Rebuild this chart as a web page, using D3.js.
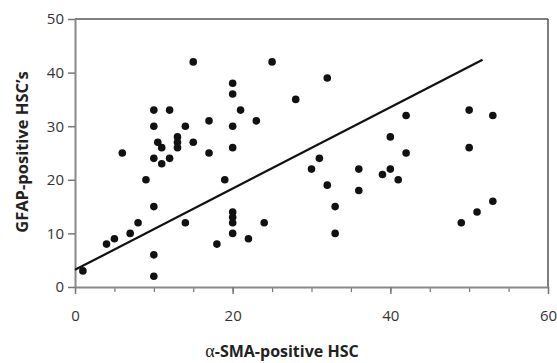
<!DOCTYPE html>
<html><head><meta charset="utf-8">
<script src="https://cdn.jsdelivr.net/npm/d3@7"></script>
<style>
body{margin:0;background:#fff;}
svg{display:block;}
.tick text{font-family:"Open Sans","Noto Sans",sans-serif;font-size:15px;fill:#333;}
</style></head>
<body><svg id="c" width="557" height="363"></svg>
<script>
const xVals=[1,4,5,6,7,8,9,10,10,10,10,10,10,10.5,11,11,12,12,13,13,13,14,14,15,15,17,17,18,19,20,20,20,20,20,20,20,20,21,22,23,24,25,28,30,31,32,32,33,33,36,36,39,40,40,41,42,42,49,50,50,51,53,53];
const yVals=[3,8,9,25,10,12,20,33,30,24,15,6,2,27,26,23,33,24,28,27,26,30,12,42,27,31,25,8,20,38,36,30,26,14,13,12,10,33,9,31,12,42,35,22,24,39,19,15,10,22,18,21,28,22,20,32,25,12,33,26,14,32,16];
const fitX=[0,51.7];
const fitY=[3.2,42.4];
const xTicks=[0,20,40,60];
const xMinor=[0,5,10,15,20,25,30,35,40,45,50,55,60];
const yTicks=[0,10,20,30,40,50];

const svg=d3.select("#c");
const L=75,R=548,T=19,B=287;
const x=d3.scaleLinear().domain([0,60]).range([L,R]);
const y=d3.scaleLinear().domain([0,50]).range([B,T]);

// frame top & right
svg.append("line").attr("x1",L).attr("x2",R).attr("y1",T).attr("y2",T).attr("stroke","#555").attr("stroke-width",1.5);
svg.append("line").attr("x1",R).attr("x2",R).attr("y1",T).attr("y2",B).attr("stroke","#555").attr("stroke-width",1.5);

// minor x ticks
svg.append("g").attr("transform",`translate(0,${B})`)
  .call(d3.axisBottom(x).tickValues(xMinor).tickSize(5).tickFormat(""))
  .call(g=>{g.select(".domain").remove();g.selectAll("line").attr("stroke","#777").attr("stroke-width",1.2);});
// major x axis
svg.append("g").attr("transform",`translate(0,${B})`)
  .call(d3.axisBottom(x).tickValues(xTicks).tickSize(7).tickSizeOuter(0).tickPadding(16).tickFormat(d3.format("d")))
  .call(g=>{g.select(".domain").attr("stroke","#888").attr("stroke-width",2);g.selectAll("line").attr("stroke","#777").attr("stroke-width",1.5);});
// y axis
svg.append("g").attr("transform",`translate(${L},0)`)
  .call(d3.axisLeft(y).tickValues(yTicks).tickSize(7).tickSizeOuter(0).tickPadding(4).tickFormat(d3.format("d")))
  .call(g=>{g.select(".domain").attr("stroke","#888").attr("stroke-width",2);g.selectAll("line").attr("stroke","#777").attr("stroke-width",1.5);});

// regression line
svg.append("line").attr("x1",x(fitX[0])).attr("y1",y(fitY[0])).attr("x2",x(fitX[1])).attr("y2",y(fitY[1]))
  .attr("stroke","#111").attr("stroke-width",2.2);

// points
svg.append("g").selectAll("circle").data(xVals.map((v,i)=>[v,yVals[i]])).join("circle")
  .attr("cx",d=>x(d[0])).attr("cy",d=>y(d[1])).attr("r",3.8).attr("fill","#111");

// titles
const xt=svg.append("text").attr("x",282).attr("y",357).attr("text-anchor","middle")
  .attr("font-family","'Open Sans','Noto Sans',sans-serif").attr("font-size",16).attr("font-weight","bold").attr("fill","#222");
xt.append("tspan").attr("font-family","'Liberation Serif','DejaVu Serif',serif").attr("font-weight","normal").attr("font-size",18).text("α");
xt.append("tspan").text("-SMA-positive HSC");

svg.append("text").attr("transform","translate(28,152) rotate(-90)").attr("text-anchor","middle")
  .attr("font-family","'Open Sans','Noto Sans',sans-serif").attr("font-size",16.5).attr("font-weight","bold").attr("fill","#222")
  .text("GFAP-positive HSC’s");
</script></body></html>
